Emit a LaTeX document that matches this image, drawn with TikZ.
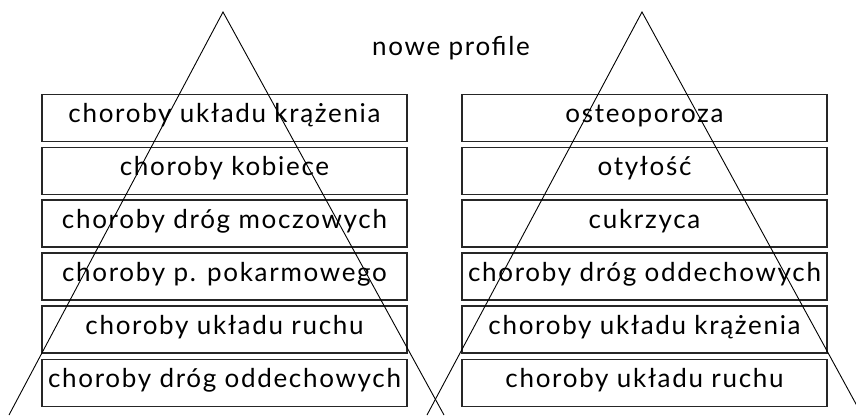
\documentclass[tikz,border=0pt]{standalone}
\usepackage{fontspec}
\setmainfont{Lato}[LetterSpace=6.5]
\begin{document}
\begin{tikzpicture}[x=1pt,y=-1pt,
  box/.style={draw=black!85,line width=1.3pt,minimum width=365pt,minimum height=47pt,
    inner xsep=0pt,inner ysep=0pt,text height=16pt,text depth=6.6pt,font=\fontsize{26}{29}\selectfont},
  tri/.style={draw=black,line width=0.9pt},
  title/.style={font=\fontsize{26}{29}\selectfont,anchor=base}]
\useasboundingbox (0,0) rectangle (856,415);
\clip (0,0) rectangle (856,415);
% left boxes
\node[box] (l1) at (224.5,118) {choroby układu krążenia};
\node[box] (l2) at (224.5,171) {choroby kobiece};
\node[box] (l3) at (224.5,223.5) {choroby dróg moczowych};
\node[box] (l4) at (224.5,276.5) {choroby p. pokarmowego};
\node[box] (l5) at (224.5,329.5) {choroby układu ruchu};
\node[box] (l6) at (224.5,383) {choroby dróg oddechowych};
% right boxes
\node[box] (r1) at (644.5,118) {osteoporoza};
\node[box] (r2) at (644.5,171) {otyłość};
\node[box] (r3) at (644.5,223.5) {cukrzyca};
\node[box] (r4) at (644.5,276.5) {choroby dróg oddechowych};
\node[box] (r5) at (644.5,329.5) {choroby układu krążenia};
\node[box] (r6) at (644.5,383) {choroby układu ruchu};
% title
\node[title] (t) at (451,55) {nowe profile};
% triangles
\coordinate (la) at (223,12);
\coordinate (lbl) at (9,415);
\coordinate (lbr) at (444,415);
\coordinate (ra) at (642,12);
\coordinate (rbl) at (427,415);
\coordinate (rbr) at (862,415);
\draw[tri] (lbl) -- (la) -- (lbr);
\draw[tri] (rbl) -- (ra) -- (rbr);
\end{tikzpicture}
\end{document}
